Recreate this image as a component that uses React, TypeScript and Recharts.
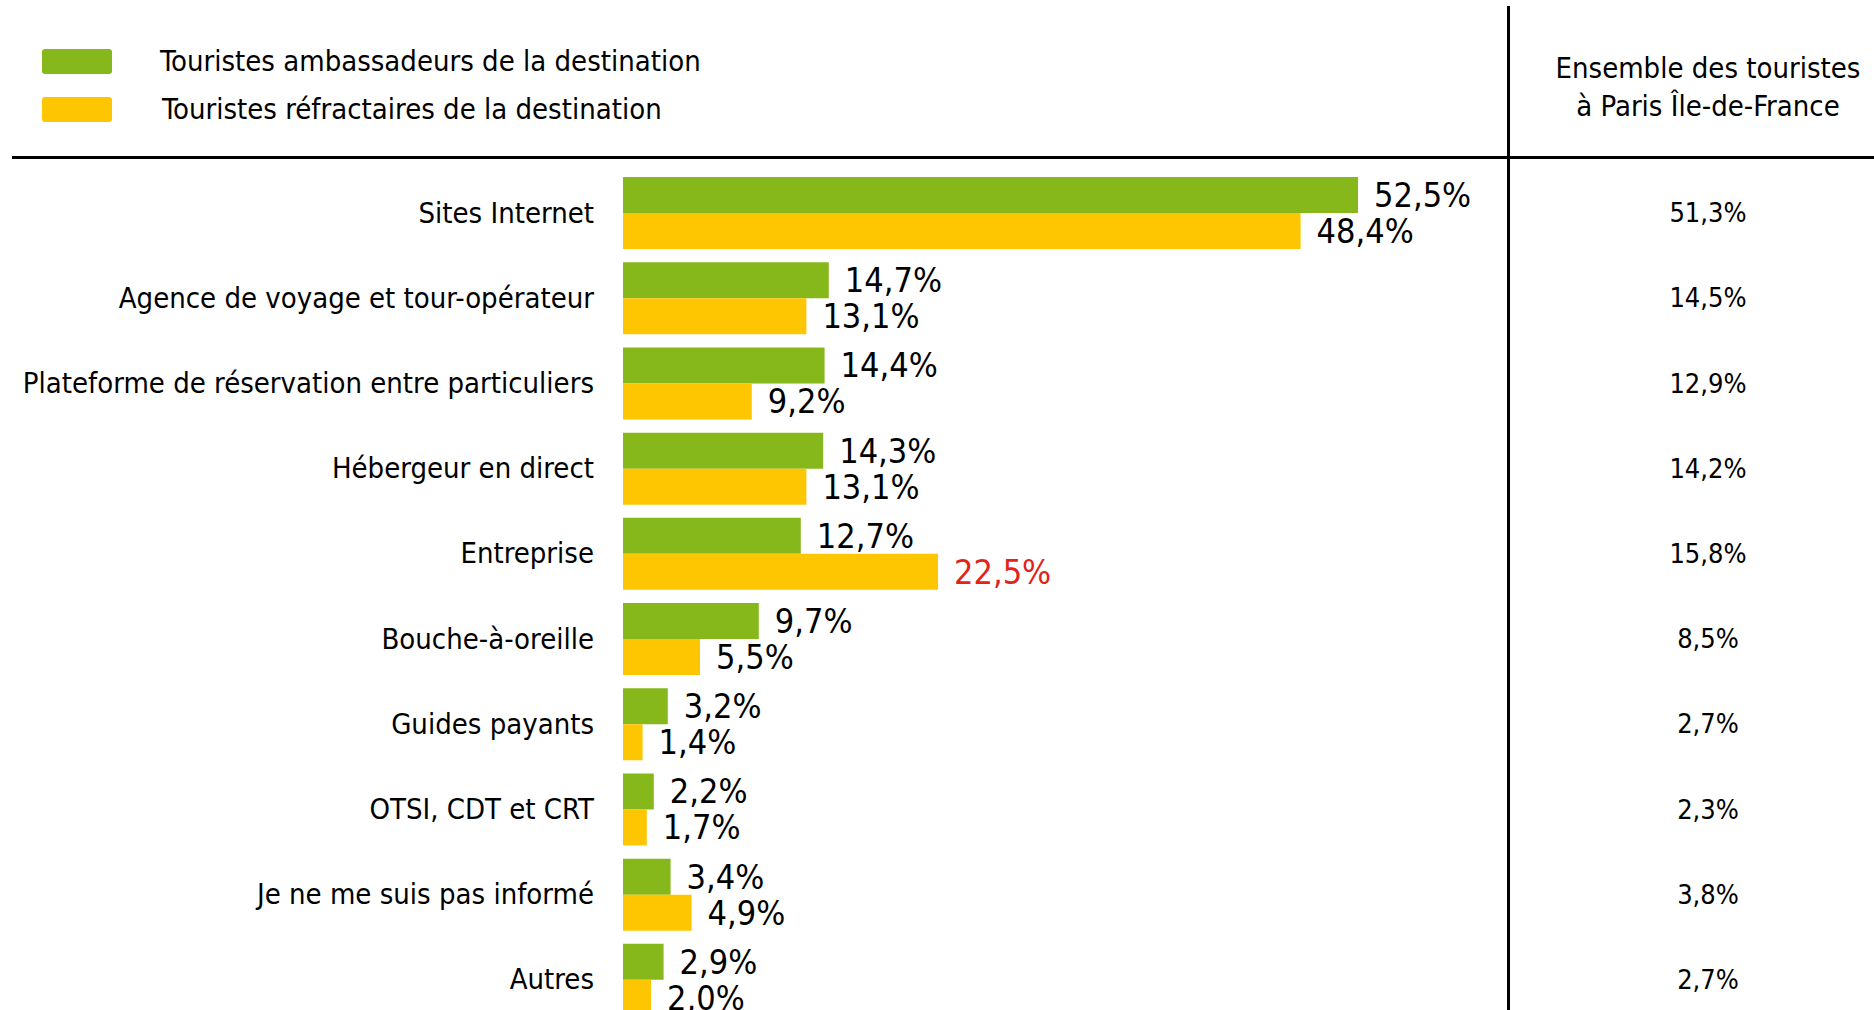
import React from 'react';
import { BarChart, Bar, XAxis, YAxis, LabelList } from 'recharts';

// catégories (de haut en bas)
const categories = [
  'Sites Internet',
  'Agence de voyage et tour-opérateur',
  'Plateforme de réservation entre particuliers',
  'Hébergeur en direct',
  'Entreprise',
  'Bouche-à-oreille',
  'Guides payants',
  'OTSI, CDT et CRT',
  'Je ne me suis pas informé',
  'Autres',
];

// valeurs en %
const ambassadeurs = [52.5, 14.7, 14.4, 14.3, 12.7, 9.7, 3.2, 2.2, 3.4, 2.9];
const refractaires = [48.4, 13.1, 9.2, 13.1, 22.5, 5.5, 1.4, 1.7, 4.9, 2.0];
const ensemble = [51.3, 14.5, 12.9, 14.2, 15.8, 8.5, 2.7, 2.3, 3.8, 2.7];

const legendLabels = ['Touristes ambassadeurs de la destination', 'Touristes réfractaires de la destination'];
const columnTitle = ['Ensemble des touristes', 'à Paris Île-de-France'];

// valeur mise en avant en rouge
const highlightCategory = 'Entreprise';

const GREEN = '#86b81b';
const YELLOW = '#fec600';
const RED = '#e2231a';
const FONT = '"Liberation Sans Narrow", "DejaVu Sans Condensed", "Roboto Condensed", sans-serif';

const data = categories.map((name, i) => ({
  name,
  ambassadeurs: ambassadeurs[i],
  refractaires: refractaires[i],
  ensemble: ensemble[i],
}));

const fmt = (v: number) => v.toFixed(1).replace('.', ',') + '%';

const makeLabel = (highlight: boolean) => (props: any) => {
  const { x, y, width, height, value, index } = props;
  const red = highlight && categories[index] === highlightCategory;
  return (
    <text
      x={x + width + 16}
      y={y + height / 2}
      dominantBaseline="central"
      fontSize={34}
      fontFamily={FONT}
      fill={red ? RED : '#000'}
    >
      {fmt(value)}
    </text>
  );
};

const CategoryTick = (props: any) => {
  const { x, y, payload } = props;
  return (
    <text x={x} y={y} textAnchor="end" dominantBaseline="central" fontSize={29} fontFamily={FONT} fill="#000">
      {payload.value}
    </text>
  );
};

const EnsembleTick = (props: any) => {
  const { x, y, index } = props;
  return (
    <text x={x + 245} y={y} textAnchor="middle" dominantBaseline="central" fontSize={27} fontFamily={FONT} fill="#000">
      {fmt(ensemble[index])}
    </text>
  );
};

export default function App() {
  return (
    <div
      style={{
        position: 'absolute',
        left: 0,
        top: 0,
        width: 1874,
        height: 1010,
        overflow: 'hidden',
        background: '#fff',
        fontFamily: FONT,
      }}
    >
      {/* légende */}
      {legendLabels.map((label, i) => (
        <div key={label} style={{ position: 'absolute', left: 42, top: 49 + i * 48, display: 'flex', alignItems: 'center' }}>
          <div style={{ width: 70, height: 25, borderRadius: 3, background: i === 0 ? GREEN : YELLOW }} />
          <span style={{ marginLeft: 48 + i * 2, fontSize: 29, lineHeight: '25px', color: '#000' }}>{label}</span>
        </div>
      ))}

      {/* titre colonne droite */}
      <div
        style={{
          position: 'absolute',
          left: 1508,
          width: 400,
          top: 49,
          textAlign: 'center',
          fontSize: 29,
          lineHeight: '38px',
          color: '#000',
        }}
      >
        {columnTitle.map((t) => (
          <div key={t}>{t}</div>
        ))}
      </div>

      {/* traits */}
      <div style={{ position: 'absolute', left: 12, right: 0, top: 156, height: 3, background: '#000' }} />
      <div style={{ position: 'absolute', left: 1507, width: 3, top: 6, bottom: 0, background: '#000' }} />

      <div style={{ position: 'absolute', left: 0, top: 0 }}>
        <BarChart
          width={1874}
          height={1030}
          data={data}
          layout="vertical"
          margin={{ top: 170, right: 0, bottom: 8, left: 0 }}
          barCategoryGap="8.3%"
          barGap={0}
        >
          <XAxis type="number" domain={[0, 60]} hide />
          <YAxis
            yAxisId="left"
            type="category"
            dataKey="name"
            width={623}
            axisLine={false}
            tickLine={false}
            tickSize={0}
            tickMargin={29}
            interval={0}
            tick={<CategoryTick />}
          />
          <YAxis
            yAxisId="right"
            orientation="right"
            type="category"
            dataKey="name"
            width={411}
            axisLine={false}
            tickLine={false}
            tickSize={0}
            tickMargin={0}
            interval={0}
            tick={<EnsembleTick />}
          />
          <Bar yAxisId="left" dataKey="ambassadeurs" fill={GREEN} isAnimationActive={false}>
            <LabelList dataKey="ambassadeurs" content={makeLabel(false)} />
          </Bar>
          <Bar yAxisId="left" dataKey="refractaires" fill={YELLOW} isAnimationActive={false}>
            <LabelList dataKey="refractaires" content={makeLabel(true)} />
          </Bar>
        </BarChart>
      </div>
    </div>
  );
}
